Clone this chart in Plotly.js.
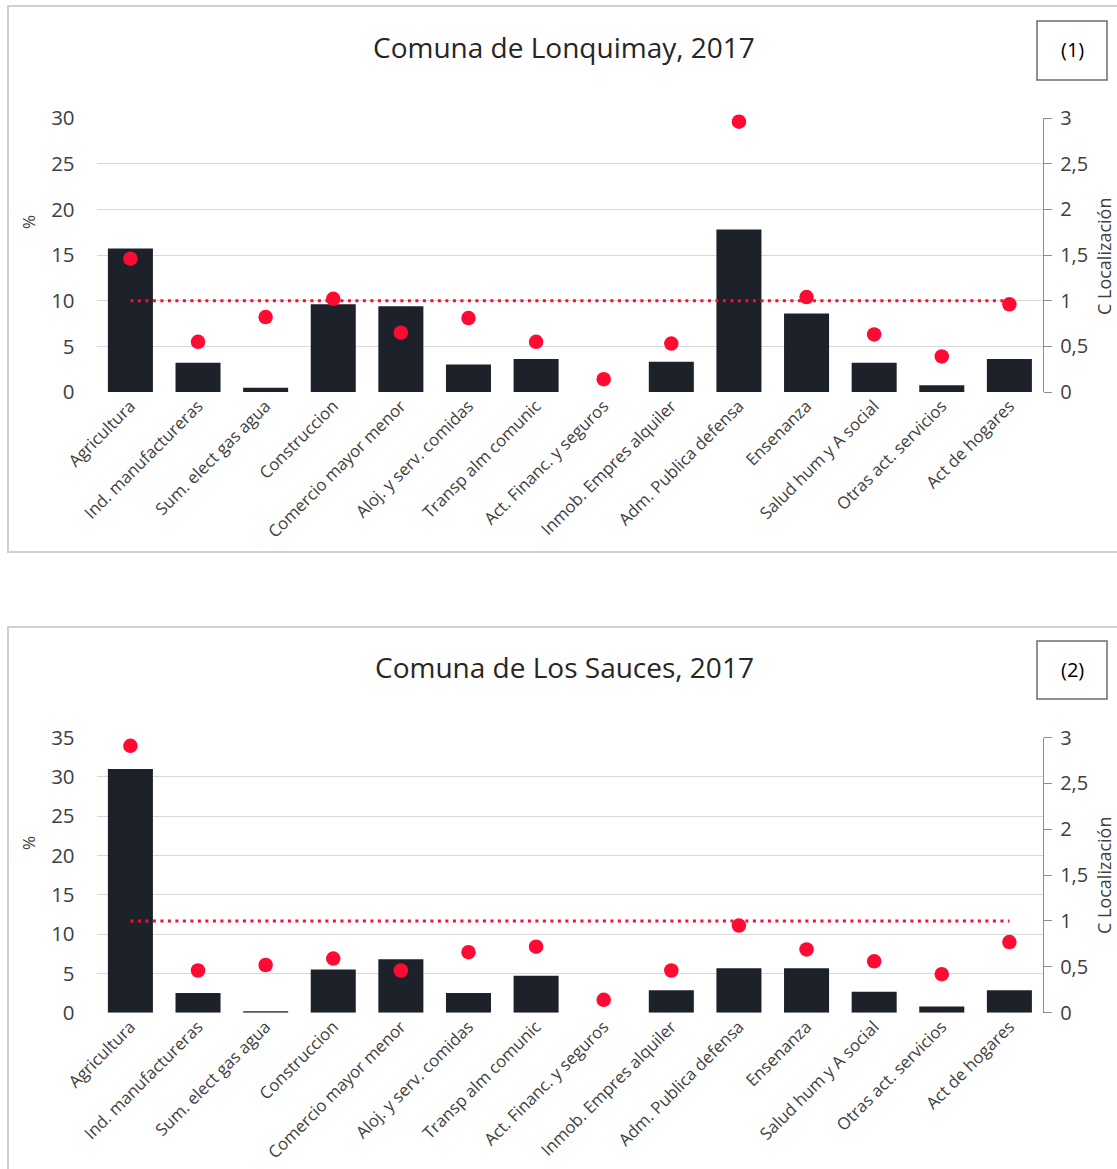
<!DOCTYPE html>
<html><head><meta charset="utf-8">
<script src="https://cdn.plot.ly/plotly-3.0.1.min.js"></script>
<style>html,body{margin:0;padding:0;background:#fff}</style>
</head><body><div id="chart" style="width:1117px;height:1169px"></div>
<script>
const categories = ["Agricultura","Ind. manufactureras","Sum. elect gas agua","Construccion","Comercio mayor menor","Aloj. y serv. comidas","Transp alm comunic","Act. Financ. y seguros","Inmob. Empres alquiler","Adm. Publica defensa","Ensenanza","Salud hum y A social","Otras act. servicios","Act de hogares"];
const lonquimayPct = [15.7, 3.2, 0.47, 9.6, 9.4, 3.0, 3.6, 0, 3.3, 17.8, 8.6, 3.2, 0.73, 3.6];
const lonquimayCL  = [1.46, 0.55, 0.82, 1.02, 0.65, 0.81, 0.55, 0.14, 0.53, 2.96, 1.04, 0.63, 0.39, 0.96];
const saucesPct = [31.0, 2.5, 0.2, 5.5, 6.8, 2.5, 4.7, 0, 2.85, 5.65, 5.65, 2.65, 0.8, 2.85];
const saucesCL  = [2.91, 0.46, 0.52, 0.59, 0.46, 0.66, 0.72, 0.14, 0.46, 0.95, 0.69, 0.56, 0.42, 0.77];
const referenceCL = [1,1,1,1,1,1,1,1,1,1,1,1,1,1];
const titles = ["Comuna de Lonquimay, 2017", "Comuna de Los Sauces, 2017"];
const panelLabels = ["(1)", "(2)"];
const leftTitle = "%";
const rightTitle = "C Localización";

const W = 1117, H = 1169;
const px = x => x / W, py = y => 1 - y / H;
const FONT = "Open Sans, sans-serif";
const BAR = "#1d222a", RED = "#ff0a32", GRID = "#d9d9d9", TXT = "#404040";

function panel(pct, cl, xa, ya, ya2) {
  return [
    {type:"bar", x:categories, y:pct, xaxis:xa, yaxis:ya, marker:{color:BAR}, hoverinfo:"none"},
    {type:"scatter", mode:"lines", x:categories, y:referenceCL, xaxis:xa, yaxis:ya2,
     line:{color:RED, width:3, dash:"3px,4.5px"}, hoverinfo:"none"},
    {type:"scatter", mode:"markers", x:categories, y:cl, xaxis:xa, yaxis:ya2,
     marker:{color:RED, size:14.5}, hoverinfo:"none", cliponaxis:false}
  ];
}
const data = [].concat(panel(lonquimayPct, lonquimayCL, "x", "y", "y2"),
                       panel(saucesPct, saucesCL, "x2", "y3", "y4"));

const xDom = [px(96.6), px(1043.2)];
const dom1 = [py(392), py(118)];
const dom2 = [py(1012.7), py(737.5)];
const xBase = {type:"category", domain:xDom, range:[-0.5, categories.length - 0.5], autorange:false,
  tickangle:-45, tickfont:{family:FONT, size:16.8, color:TXT},
  showline:false, ticks:"", showgrid:false, zeroline:false, fixedrange:true};
const yLeft = r => ({range:r, autorange:false, dtick:5, tick0:0, showgrid:true, gridcolor:GRID, gridwidth:1, zeroline:false,
  showline:false, ticks:"", tickfont:{family:FONT, size:20.5, color:TXT}, ticklabelstandoff:21});
const yRight = {range:[0,3], autorange:false, dtick:0.5, tick0:0, side:"right", showgrid:false, zeroline:false,
  showline:true, linecolor:"#8c8c8c", linewidth:1, ticks:"outside", ticklen:8, tickcolor:"#8c8c8c",
  tickfont:{family:FONT, size:20, color:TXT}, ticklabelstandoff:4};

const layout = {
  width:W, height:H, margin:{l:0,r:0,t:0,b:0}, paper_bgcolor:"#fff", plot_bgcolor:"rgba(0,0,0,0)",
  showlegend:false, separators:",.", bargap:0.334,
  xaxis: Object.assign({}, xBase, {anchor:"y"}),
  yaxis: Object.assign(yLeft([0,30]), {domain:dom1, anchor:"x"}),
  yaxis2: Object.assign({}, yRight, {overlaying:"y", anchor:"x"}),
  xaxis2: Object.assign({}, xBase, {anchor:"y3"}),
  yaxis3: Object.assign(yLeft([0,35]), {domain:dom2, anchor:"x2"}),
  yaxis4: Object.assign({}, yRight, {overlaying:"y3", anchor:"x2"}),
  shapes: [
    {type:"rect", xref:"paper", yref:"paper", x0:px(8), x1:px(1130), y0:py(552), y1:py(6),
     line:{color:"#d0d0d0", width:2}},
    {type:"rect", xref:"paper", yref:"paper", x0:px(8), x1:px(1130), y0:py(1180), y1:py(627),
     line:{color:"#d0d0d0", width:2}},
    {type:"rect", xref:"paper", yref:"paper", x0:px(1037), x1:px(1107), y0:py(80), y1:py(21),
     line:{color:"#6e6e6e", width:1.5}},
    {type:"rect", xref:"paper", yref:"paper", x0:px(1037), x1:px(1107), y0:py(699), y1:py(641),
     line:{color:"#6e6e6e", width:1.5}}
  ],
  annotations: [
    {text:titles[0], xref:"paper", yref:"paper", x:px(564), y:py(47), xanchor:"center", yanchor:"middle",
     showarrow:false, font:{family:FONT, size:28, color:"#262626"}},
    {text:titles[1], xref:"paper", yref:"paper", x:px(564), y:py(667), xanchor:"center", yanchor:"middle",
     showarrow:false, font:{family:FONT, size:28, color:"#262626"}},
    {text:panelLabels[0], xref:"paper", yref:"paper", x:px(1072), y:py(49), xanchor:"center", yanchor:"middle",
     showarrow:false, font:{family:FONT, size:20, color:"#000"}},
    {text:panelLabels[1], xref:"paper", yref:"paper", x:px(1072), y:py(669), xanchor:"center", yanchor:"middle",
     showarrow:false, font:{family:FONT, size:20, color:"#000"}},
    {text:leftTitle, xref:"paper", yref:"paper", x:px(28), y:py(222), xanchor:"center", yanchor:"middle",
     textangle:-90, showarrow:false, font:{family:FONT, size:17, color:TXT}},
    {text:leftTitle, xref:"paper", yref:"paper", x:px(28), y:py(843), xanchor:"center", yanchor:"middle",
     textangle:-90, showarrow:false, font:{family:FONT, size:17, color:TXT}},
    {text:rightTitle, xref:"paper", yref:"paper", x:px(1104), y:py(257), xanchor:"center", yanchor:"middle",
     textangle:-90, showarrow:false, font:{family:FONT, size:18, color:TXT}},
    {text:rightTitle, xref:"paper", yref:"paper", x:px(1104), y:py(876), xanchor:"center", yanchor:"middle",
     textangle:-90, showarrow:false, font:{family:FONT, size:18, color:TXT}}
  ]
};
Plotly.newPlot("chart", data, layout, {staticPlot:true, displayModeBar:false});
</script>
</body></html>
